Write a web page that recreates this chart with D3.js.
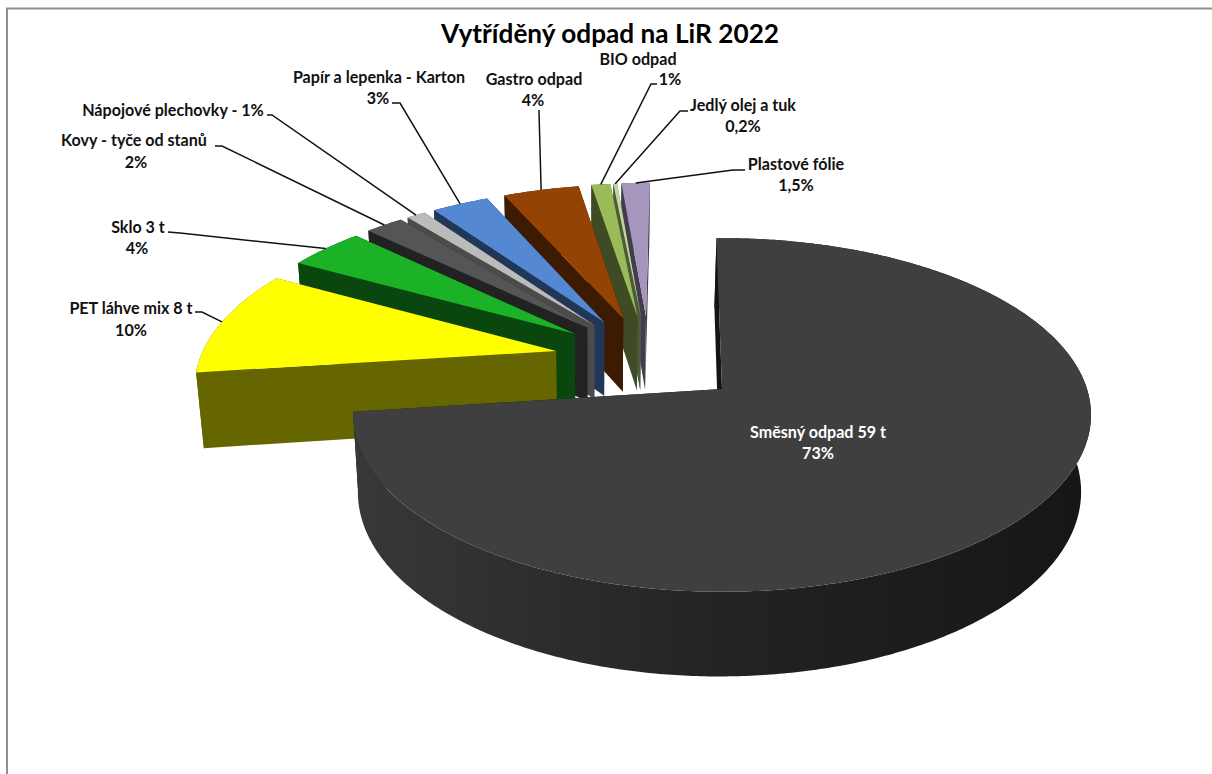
<!DOCTYPE html>
<html lang="cs">
<head>
<meta charset="utf-8">
<title>Vytříděný odpad na LiR 2022</title>
<script src="https://cdn.jsdelivr.net/npm/d3@7/dist/d3.min.js"></script>
<style>
  html, body { margin: 0; padding: 0; background: #fff; overflow: hidden; }
  svg { display: block; }
  text { font-family: Lato, "Open Sans", sans-serif; font-weight: 700; }
</style>
</head>
<body>
<svg id="chart" width="1212" height="774"></svg>
<script>
// Waste categories in clockwise order, starting from twelve o'clock.
const categories = ["Směsný odpad 59 t", "PET láhve mix 8 t", "Sklo 3 t", "Kovy - tyče od stanů",
  "Nápojové plechovky", "Papír a lepenka - Karton", "Gastro odpad", "BIO odpad", "Jedlý olej a tuk", "Plastové fólie"];
const shares = [73, 10, 4, 2, 1, 3, 4, 1, 0.2, 1.5];
const shareLabels = ["73%", "10%", "4%", "2%", "1%", "3%", "4%", "1%", "0,2%", "1,5%"];
const topColors = ["#3f3f3f", "#ffff00", "#1bb227", "#555555", "#bbbbbb", "#5488d3", "#954305", "#9bbb59", "#c3d69b", "#a596bd"];
const sideColors = ["#141414", "#666600", "#0a470f", "#222222", "#4b4b4b", "#213757", "#3c1b02", "#3e4b24", "#4e5a3c", "#423c4c"];

// Where each caption sits: centre x and baseline of each line, plus the leader's start and elbow.
const captionLayout = [
  { lines: [[818, 438], [818, 459]], fill: "#fff" },
  { lines: [[131, 314], [131, 336]], leader: [[195, 312], [202, 312]] },
  { lines: [[138, 233], [137, 254]], leader: [[168, 232], [180, 233]] },
  { lines: [[134, 146], [136, 168]], leader: [[215, 146], [222, 146]] },
  { lines: [[173, 116]], leader: [[267, 115], [272, 115]], inline: true },
  { lines: [[379, 83], [378, 104]], leader: [[392, 103], [400, 103]] },
  { lines: [[534, 85], [533, 106]], leader: [[539, 110], [539, 112]] },
  { lines: [[638, 65], [670, 85]], leader: [[657, 84], [651, 84]] },
  { lines: [[743, 111], [743, 132]], leader: [[688, 111], [680, 111]] },
  { lines: [[796, 170], [796, 191]], leader: [[745, 170], [733, 170]] }
];

const svg = d3.select("#chart");
const labelSize = 16.1;

// Perspective projection of the pie plane: u runs right, v runs away from the viewer, z runs down.
const view = { cx: 722, cy: 389, A: 365, B: 173, H: 78, S: -2.5, k: 0.1468, m: 0.02 };
function project(u, v, z) {
  const w = 1 + view.k * v + view.m * z;
  return [view.cx + (view.A * u + view.S * z) / w, view.cy + (-view.B * v + view.H * z) / w];
}

const explosion = 0.27;
const tau = Math.PI * 2;
const firstAngle = -1 * Math.PI / 180;
const slices = d3.pie().sort(null).value(d => d)
  .startAngle(firstAngle)
  .endAngle(firstAngle + tau)(shares);
const mid = s => (s.startAngle + s.endAngle) / 2;

// The largest slice defines the view's origin, so every offset is measured against its own.
const base = mid(slices[0]);
slices.forEach(s => {
  const m = mid(s);
  s.ou = explosion * (Math.sin(m) - Math.sin(base));
  s.ov = explosion * (Math.cos(m) - Math.cos(base));
});

const rimPoint = (s, a, z) => project(s.ou + Math.sin(a), s.ov + Math.cos(a), z);
const apex = (s, z) => project(s.ou, s.ov, z);
const line = d3.line();

function arcPoints(s, z) {
  const n = Math.max(2, Math.ceil((s.endAngle - s.startAngle) / 0.01));
  return d3.range(n + 1).map(i => rimPoint(s, s.startAngle + (s.endAngle - s.startAngle) * i / n, z));
}

const defs = svg.append("defs");
const rimFill = defs.append("linearGradient").attr("id", "rimFill")
  .attr("gradientUnits", "userSpaceOnUse").attr("x1", 355).attr("x2", 1090).attr("y1", 0).attr("y2", 0);
[[0, "#383838"], [0.5, "#232323"], [1, "#161616"]].forEach(([o, c]) =>
  rimFill.append("stop").attr("offset", o).attr("stop-color", c));

// Chart frame: only the top and left rules are in view.
svg.append("path").attr("d", "M7,774V8.5H1212").attr("fill", "none").attr("stroke", "#8f8f8f").attr("stroke-width", 2);

// Paint from the far slice to the near one so closer pieces overlap correctly.
const pieLayer = svg.append("g");
d3.range(slices.length - 1, -1, -1).forEach(i => {
  const s = slices[i];
  const g = pieLayer.append("g");
  const side = sideColors[i];
  g.append("path").attr("fill", side)
    .attr("d", line([apex(s, 0), rimPoint(s, s.endAngle, 0), rimPoint(s, s.endAngle, 1), apex(s, 1)]) + "Z");
  g.append("path").attr("fill", i === 0 ? "url(#rimFill)" : side)
    .attr("d", line([...arcPoints(s, 0), ...arcPoints(s, 1).reverse()]) + "Z");
  g.append("path").attr("fill", side)
    .attr("d", line([apex(s, 0), rimPoint(s, s.startAngle, 0), rimPoint(s, s.startAngle, 1), apex(s, 1)]) + "Z");
  g.append("path").attr("fill", topColors[i])
    .attr("d", line([apex(s, 0), ...arcPoints(s, 0)]) + "Z");
});

// Leader lines run from each caption to the midpoint of its slice's outer edge.
captionLayout.forEach((c, i) => {
  if (!c.leader) return;
  const s = slices[i];
  svg.append("path").attr("fill", "none").attr("stroke", "#111").attr("stroke-width", 1.5)
    .attr("d", line([...c.leader, rimPoint(s, mid(s), 0)]));
});

// Captions: name on the first line, share on the second (or both on one line).
captionLayout.forEach((c, i) => {
  const texts = c.inline ? [`${categories[i]} - ${shareLabels[i]}`] : [categories[i], shareLabels[i]];
  texts.forEach((t, j) => {
    svg.append("text").attr("x", c.lines[j][0]).attr("y", c.lines[j][1])
      .attr("text-anchor", "middle").attr("font-size", labelSize).attr("fill", c.fill || "#111").text(t);
  });
});

svg.append("text").attr("x", 610).attr("y", 43).attr("text-anchor", "middle")
  .attr("font-size", 26.2).attr("fill", "#000").text("Vytříděný odpad na LiR 2022");
</script>
</body>
</html>
